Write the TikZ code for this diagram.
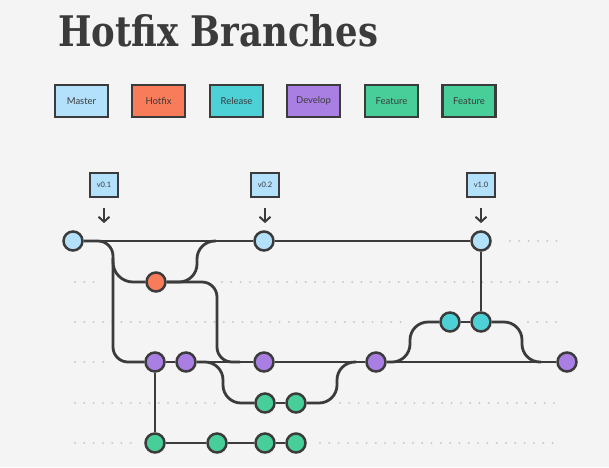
\documentclass[tikz,border=0pt]{standalone}
\usepackage{fontspec}
\setmainfont{Lato}
\newfontfamily\titlefont{DejaVu Serif}
\usetikzlibrary{arrows.meta}
\definecolor{bgc}{HTML}{F4F4F4}
\definecolor{ink}{HTML}{3B3B3B}
\definecolor{dotc}{HTML}{C9C9C9}
\definecolor{cmaster}{HTML}{B3E0FB}
\definecolor{chotfix}{HTML}{F87B5A}
\definecolor{crelease}{HTML}{4DD1D6}
\definecolor{cdevelop}{HTML}{A97FE3}
\definecolor{cfeature}{HTML}{48CF99}
\pgfdeclarelayer{bg}
\pgfdeclarelayer{ln}
\pgfsetlayers{bg,ln,main}
\begin{document}
\begin{tikzpicture}[x=1pt,y=-1pt,
  commit/.style={circle,draw=ink,line width=2.5pt,minimum size=19pt,inner sep=0pt},
  legendbox/.style={draw=ink,line width=2.5pt,minimum width=53pt,minimum height=32pt,inner sep=0pt,font=\fontsize{9.5}{11}\selectfont,text=ink},
  tagbox/.style={draw=ink,fill=cmaster,line width=2.2pt,minimum width=28pt,minimum height=24pt,inner sep=0pt,font=\fontsize{7.5}{9}\selectfont,text=ink},
  link/.style={draw=ink,line width=2.8pt},
  tagarrow/.style={draw=ink,line width=2pt,-{Straight Barb[length=5pt,width=11pt]}},
  dotrow/.style={draw=dotc,line width=2.2pt,line cap=round,dash pattern=on 0pt off 9.3pt}]
\begin{pgfonlayer}{bg}
\fill[bgc] (0,0) rectangle (609,467);
\draw[dotrow] (510,241) -- (560,241);
\draw[dotrow] (75,282) -- (98,282);
\draw[dotrow] (222,282) -- (560,282);
\draw[dotrow] (75,322) -- (407,322);
\draw[dotrow] (528,322) -- (560,322);
\draw[dotrow] (75,362) -- (103,362);
\draw[dotrow] (75,403) -- (223,403);
\draw[dotrow] (340,403) -- (560,403);
\draw[dotrow] (75,443) -- (133,443);
\draw[dotrow] (320,443) -- (560,443);
\end{pgfonlayer}
% title
\node[anchor=south west,inner sep=0pt,text=ink] (title) at (58,47) {\resizebox{320pt}{32pt}{\titlefont\bfseries Hotfix Branches}};
% legend
\node[legendbox,fill=cmaster] (lmaster) at (81.5,101) {Master};
\node[legendbox,fill=chotfix] (lhotfix) at (158.5,101) {Hotfix};
\node[legendbox,fill=crelease] (lrelease) at (236.5,101) {Release};
\node[legendbox,fill=cdevelop] (ldevelop) at (313.5,101) {Develop};
\node[legendbox,fill=cfeature] (lfeat1) at (391.5,101) {Feature};
\node[legendbox,fill=cfeature] (lfeat2) at (469,101) {Feature};
% tags
\node[tagbox] (t1) at (104,185) {v0.1};
\node[tagbox] (t2) at (265,185) {v0.2};
\node[tagbox] (t3) at (481,185) {v1.0};
\draw[tagarrow] ([yshift=-10pt]t1.south) -- ++(0,15);
\draw[tagarrow] ([yshift=-10pt]t2.south) -- ++(0,15);
\draw[tagarrow] ([yshift=-10pt]t3.south) -- ++(0,15);
% commits
\node[commit,fill=cmaster] (m1) at (73,241) {};
\node[commit,fill=cmaster] (m2) at (264,241) {};
\node[commit,fill=cmaster] (m3) at (481,241) {};
\node[commit,fill=chotfix] (h1) at (156,282) {};
\node[commit,fill=crelease] (r1) at (450,322) {};
\node[commit,fill=crelease] (r2) at (481,322) {};
\node[commit,fill=cdevelop] (d1) at (155,362) {};
\node[commit,fill=cdevelop] (d2) at (186,362) {};
\node[commit,fill=cdevelop] (d3) at (264,362) {};
\node[commit,fill=cdevelop] (d4) at (376,362) {};
\node[commit,fill=cdevelop] (d5) at (567,362) {};
\node[commit,fill=cfeature] (fa1) at (265,403) {};
\node[commit,fill=cfeature] (fa2) at (296,403) {};
\node[commit,fill=cfeature] (fb1) at (155,443) {};
\node[commit,fill=cfeature] (fb2) at (217,443) {};
\node[commit,fill=cfeature] (fb3) at (265,443) {};
\node[commit,fill=cfeature] (fb4) at (296,443) {};
\coordinate (hfork) at (113,258);
\coordinate (hjoin) at (216,241);
\coordinate (djoin) at (240,362);
\coordinate (fjoin) at (356,362);
\coordinate (rjoin) at (541,362);
% connectors
\begin{pgfonlayer}{ln}
\draw[link] (m1) -- (m2);
\draw[link] (m2) -- (m3);
\draw[link] (m3) -- (r2);
\draw[link,rounded corners=15pt] (m1.east) -- (113,241) -- (113,362) -- (d1.west);
\draw[link,rounded corners=20pt] (hfork) -- (113,282) -- (h1.west);
\draw[link,rounded corners=18pt] (h1.east) -- (197,282) -- (197,241) -- (hjoin);
\draw[link,rounded corners=15pt] (h1.east) -- (217,282) -- (217,362) -- (djoin);
\draw[link] (d1) -- (d2);
\draw[link] (d2) -- (d3);
\draw[link] (d3) -- (d4);
\draw[link] (d4) -- (d5);
\draw[link] (d1) -- (fb1);
\draw[link] (fb1) -- (fb2);
\draw[link] (fb2) -- (fb3);
\draw[link] (fb3) -- (fb4);
\draw[link,rounded corners=18pt] (d2.east) -- (223,362) -- (223,403) -- (fa1.west);
\draw[link] (fa1) -- (fa2);
\draw[link,rounded corners=18pt] (fa2.east) -- (337,403) -- (337,362) -- (fjoin);
\draw[link,rounded corners=18pt] (d4.east) -- (410,362) -- (410,322) -- (r1.west);
\draw[link] (r1) -- (r2);
\draw[link,rounded corners=18pt] (r2.east) -- (522,322) -- (522,362) -- (rjoin);
\end{pgfonlayer}
\end{tikzpicture}
\end{document}
